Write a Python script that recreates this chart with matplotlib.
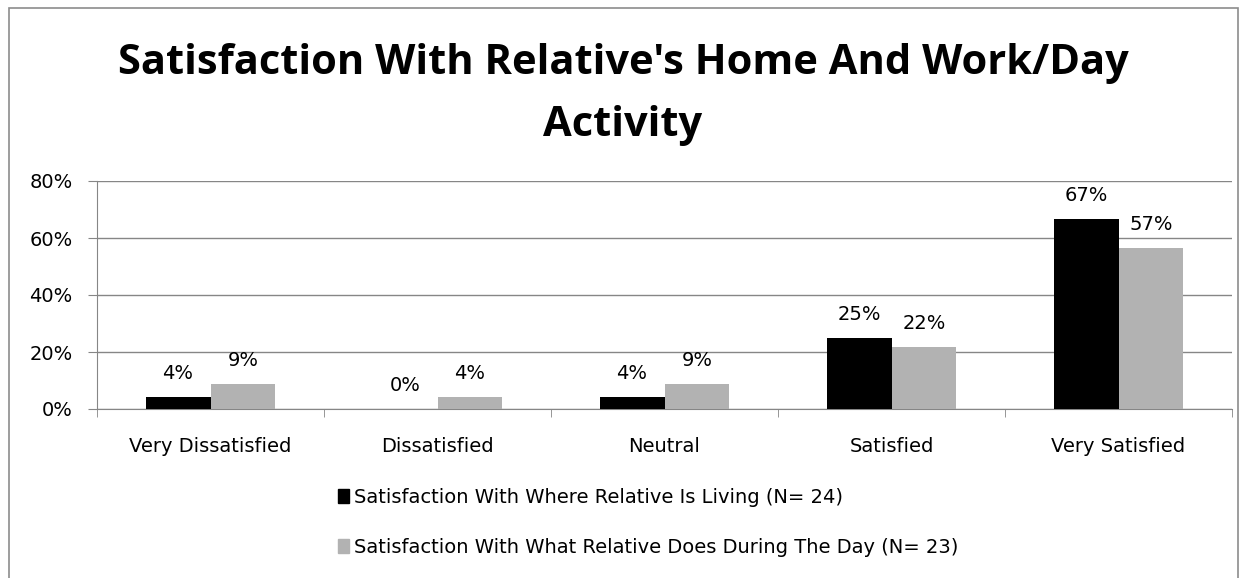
import matplotlib
matplotlib.use('Agg')
import matplotlib.pyplot as plt
from matplotlib.patches import Rectangle, Patch
import numpy as np

# 数据
categories = ['Very Dissatisfied', 'Dissatisfied', 'Neutral', 'Satisfied', 'Very Satisfied']
living = [4.17, 0.0, 4.17, 25.0, 66.67]
daytime = [8.70, 4.35, 8.70, 21.74, 56.52]
labels_living = ['4%', '0%', '4%', '25%', '67%']
labels_daytime = ['9%', '4%', '9%', '22%', '57%']
series_names = ['Satisfaction With Where Relative Is Living (N= 24)',
                'Satisfaction With What Relative Does During The Day (N= 23)']
yticks = [0, 20, 40, 60, 80]

plt.rcParams['font.family'] = ['DejaVu Sans']
FS = 14

W, H = 1248, 578
fig = plt.figure(figsize=(W / 100, H / 100), dpi=100)

# 外框
fig.patches.append(Rectangle((9 / W, -0.1), (1238 - 9) / W, (H - 8) / H + 0.1,
                             transform=fig.transFigure, fill=False,
                             edgecolor='#8c8c8c', linewidth=1.2))

for txt, yy in [("Satisfaction With Relative's Home And Work/Day", 64), ("Activity", 125)]:
    fig.text(623 / W, 1 - yy / H, txt, ha='center', va='center', fontsize=30,
             fontweight='bold', family='Open Sans')

left, right = 97, 1232
top, bottom = 181, 409
ax = fig.add_axes([left / W, 1 - bottom / H, (right - left) / W, (bottom - top) / H])

x = np.arange(len(categories))
bw = 0.286
ax.bar(x - bw / 2, living, bw, color='black', zorder=3)
ax.bar(x + bw / 2, daytime, bw, color='#b2b2b2', zorder=3)

for i in range(len(categories)):
    ax.text(x[i] - bw / 2, living[i] + 6.3, labels_living[i], ha='center', va='baseline', fontsize=FS)
    ax.text(x[i] + bw / 2, daytime[i] + 6.3, labels_daytime[i], ha='center', va='baseline', fontsize=FS)

ax.set_xlim(-0.5, len(categories) - 0.5)
ax.set_ylim(0, 80)
ax.set_yticks(yticks)
ax.set_yticklabels([f'{v}%' for v in yticks], fontsize=FS)
ax.yaxis.grid(True, color='#868686', linewidth=1, zorder=0)
ax.set_axisbelow(True)

ax.set_xticks(x)
ax.set_xticklabels(categories, fontsize=FS)
ax.set_xticks(np.arange(-0.5, len(categories)), minor=True)
ax.tick_params(axis='x', which='major', length=0, pad=20)
ax.tick_params(axis='x', which='minor', length=6, color='#868686')
ax.tick_params(axis='y', length=6.5, color='#868686', pad=11)

for s in ['top', 'right']:
    ax.spines[s].set_visible(False)
ax.spines['left'].set_color('#868686')
ax.spines['bottom'].set_color('#868686')

handles = [Patch(color='black'), Patch(color='#b2b2b2')]
fig.legend(handles, series_names, loc='upper left', bbox_to_anchor=(330 / W, 1 - 480 / H),
           frameon=False, fontsize=FS, handlelength=0.6, handleheight=0.7,
           handletextpad=0.25, labelspacing=1.6, borderaxespad=0)

fig.savefig('out.png', dpi=100)
